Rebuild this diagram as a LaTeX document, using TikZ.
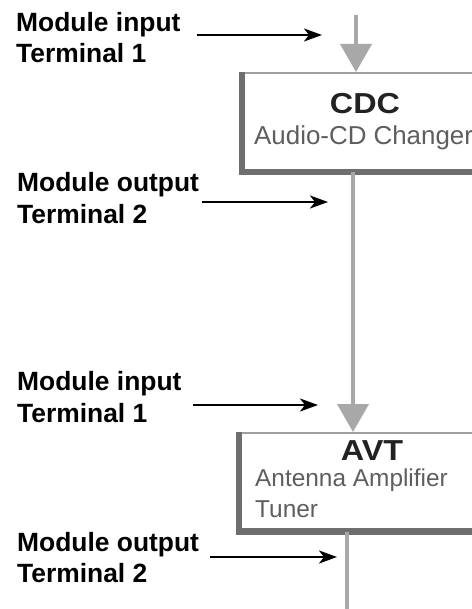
\documentclass[tikz,border=0pt]{standalone}
\usepackage{fontspec}
\setmainfont{Liberation Sans}
\newfontfamily\titlefont[FakeStretch=1.12]{Liberation Sans}
\usetikzlibrary{arrows.meta}
\definecolor{flowgray}{HTML}{A8A8A8}
\definecolor{edgegray}{HTML}{6E6E6E}
\definecolor{thingray}{HTML}{A0A0A0}
\definecolor{subgray}{HTML}{5E5E5E}
\definecolor{titlegray}{HTML}{222222}
\begin{document}
\begin{tikzpicture}[x=1bp,y=-1bp,
  lbl/.style={anchor=base west, inner sep=0pt, font=\fontsize{26.5}{31}\selectfont\bfseries, text=black},
  pointer/.style={line width=2.4bp, black, -{Stealth[length=18bp,width=13bp,inset=5bp]}},
  flow/.style={line width=4bp, flowgray, -{Triangle[length=28bp,width=31bp]}},
  plainflow/.style={line width=4bp, flowgray},
  modbox/.style={draw=thingray, line width=2bp, fill=white, anchor=north west, inner sep=0pt},
  modedge/.style={draw=edgegray, line width=6.5bp},
  title/.style={anchor=base, inner sep=0pt, font=\titlefont\fontsize{29}{30}\selectfont\bfseries, text=titlegray},
  sub/.style={anchor=base west, inner sep=0pt, font=\fontsize{26}{30}\selectfont, text=subgray},
  subsmall/.style={sub, font=\fontsize{24.5}{30}\selectfont}
]
\useasboundingbox (0,0) rectangle (472,609);
\clip (0,0) rectangle (472,609);
\fill[white] (0,0) rectangle (472,609);

% module boxes
\node[modbox, minimum width=260bp, minimum height=98bp] (cdc) at (242,72) {};
\draw[modedge] (cdc.north west) -- (cdc.south west) -- (cdc.south east);
\node[modbox, minimum width=260bp, minimum height=97.5bp] (avt) at (239,432) {};
\draw[modedge] (avt.north west) -- (avt.south west) -- (avt.south east);

% box texts
\node[title] (cdct) at (365,114) {CDC};
\node[sub] (cdcs) at (254,145) {Audio-CD Changer};
\node[title] (avtt) at (372,460) {AVT};
\node[subsmall] (avts1) at (255,486) {Antenna Amplifier};
\node[subsmall] (avts2) at (255,517) {Tuner};

% gray flow lines
\coordinate (topx) at (356,15);
\coordinate (midx) at (353,300);
\coordinate (botx) at (347,612);
\draw[flow] (topx) -- (topx |- cdc.north);
\draw[flow] (cdc.south -| midx) -- (avt.north -| midx);
\draw[plainflow] (avt.south -| botx) -- (botx);

% labels
\node[lbl] (l1a) at (16,32) {Module input};
\node[lbl] (l1b) at (16,63) {Terminal 1};
\node[lbl] (l2a) at (17,191) {Module output};
\node[lbl] (l2b) at (17,223) {Terminal 2};
\node[lbl] (l3a) at (17,390) {Module input};
\node[lbl] (l3b) at (17,422) {Terminal 1};
\node[lbl] (l4a) at (17,551) {Module output};
\node[lbl] (l4b) at (17,582) {Terminal 2};

% pointer arrows
\coordinate (p1s) at (197,35);  \coordinate (p1e) at (322,35);
\coordinate (p2s) at (202,202); \coordinate (p2e) at (328,202);
\coordinate (p3s) at (193,405); \coordinate (p3e) at (318,405);
\coordinate (p4s) at (210,557); \coordinate (p4e) at (337,557);
\draw[pointer] (p1s) -- (p1e);
\draw[pointer] (p2s) -- (p2e);
\draw[pointer] (p3s) -- (p3e);
\draw[pointer] (p4s) -- (p4e);
\end{tikzpicture}
\end{document}
